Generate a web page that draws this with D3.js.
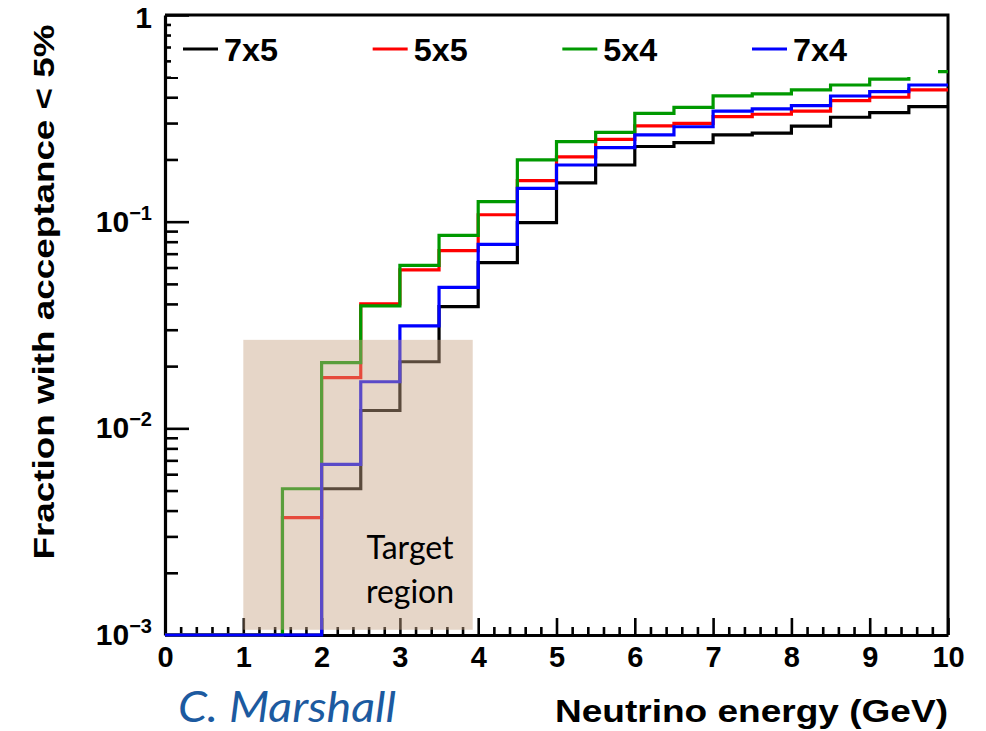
<!DOCTYPE html>
<html>
<head>
<meta charset="utf-8">
<script src="https://cdn.jsdelivr.net/npm/d3@7"></script>
<style>
  body { margin: 0; background: #fff; }
  svg { display: block; }
</style>
</head>
<body>
<svg></svg>
<script>
// bin edges (GeV), 0.5 GeV bins
const binEdges = [0, 0.5, 1, 1.5, 2, 2.5, 3, 3.5, 4, 4.5, 5, 5.5, 6, 6.5, 7, 7.5, 8, 8.5, 9, 9.5, 10];

const seriesNames = ["7x5", "5x5", "5x4", "7x4"];
const seriesColors = ["#000000", "#ff0000", "#009900", "#0000ff"];

// fraction per bin, 0 = empty bin (drawn on the frame bottom)
const frac7x5 = [0, 0, 0, 0, 0.0051, 0.0122, 0.0210, 0.0388, 0.0633, 0.0989, 0.154, 0.188, 0.231, 0.241, 0.263, 0.268, 0.290, 0.320, 0.337, 0.360];
const frac5x5 = [0, 0, 0, 0.0037, 0.0176, 0.040, 0.0584, 0.0724, 0.108, 0.158, 0.206, 0.250, 0.291, 0.299, 0.322, 0.331, 0.343, 0.385, 0.400, 0.434];
const frac5x4 = [0, 0, 0, 0.0051, 0.0208, 0.0391, 0.0615, 0.0859, 0.125, 0.199, 0.244, 0.2705, 0.334, 0.3575, 0.406, 0.415, 0.434, 0.4585, 0.489, 0.532];
const frac7x4 = [0, 0, 0, 0, 0.0067, 0.0168, 0.0313, 0.0481, 0.0777, 0.145, 0.188, 0.228, 0.263, 0.288, 0.343, 0.351, 0.364, 0.4056, 0.4256, 0.4585];

const xTicks = [0, 1, 2, 3, 4, 5, 6, 7, 8, 9, 10];
const xMinorTicks = [0.2, 0.4, 0.6, 0.8, 1.2, 1.4, 1.6, 1.8, 2.2, 2.4, 2.6, 2.8, 3.2, 3.4, 3.6, 3.8, 4.2, 4.4, 4.6, 4.8,
                     5.2, 5.4, 5.6, 5.8, 6.2, 6.4, 6.6, 6.8, 7.2, 7.4, 7.6, 7.8, 8.2, 8.4, 8.6, 8.8, 9.2, 9.4, 9.6, 9.8];
const yTicks = [0.001, 0.01, 0.1, 1];
const yTickExp = ["\u22123", "\u22122", "\u22121", ""];
const yMinorTicks = [0.002, 0.003, 0.004, 0.005, 0.006, 0.007, 0.008, 0.009,
                     0.02, 0.03, 0.04, 0.05, 0.06, 0.07, 0.08, 0.09,
                     0.2, 0.3, 0.4, 0.5, 0.6, 0.7, 0.8, 0.9];

// shaded "target region" in data units
const targetX = [1, 3.93];
const targetY = [0.00106, 0.0268];

const width = 986,
      height = 731,
      margin = { top: 15, right: 38, bottom: 96, left: 165 };

const x = d3.scaleLinear()
      .domain([0, 10])
      .range([margin.left, width - margin.right]);

const y = d3.scaleLog()
      .domain([1e-3, 1])
      .range([height - margin.bottom, margin.top]);

const svg = d3.select("svg")
      .attr("width", width)
      .attr("height", height)
      .attr("viewBox", [0, 0, width, height]);

const boldFont = "'Liberation Sans', Arial, Helvetica, sans-serif";

// frame (top and right)
svg.append("path")
    .attr("fill", "none")
    .attr("stroke", "black")
    .attr("stroke-width", 3)
    .attr("d", `M${x(0)},${y(1)}H${x(10)}V${y(1e-3)}`);

// x axis
const xAx = svg.append("g")
    .attr("transform", `translate(0,${y(1e-3)})`)
    .call(d3.axisBottom(x).tickValues(xTicks).tickSize(-17).tickSizeOuter(0).tickPadding(11).tickFormat(d3.format("d")));
xAx.select(".domain").attr("stroke-width", 3.2);
xAx.selectAll(".tick line").attr("stroke-width", 2.6);
xAx.selectAll(".tick text")
    .attr("font-family", boldFont)
    .attr("font-weight", "bold")
    .attr("font-size", 29)
    .attr("fill", "#000");

svg.append("g")
    .attr("transform", `translate(0,${y(1e-3)})`)
    .call(d3.axisBottom(x).tickValues(xMinorTicks).tickSize(-8).tickFormat(""))
    .call(g => g.select(".domain").remove())
    .selectAll(".tick line").attr("stroke-width", 2.6);

// y axis
const yAx = svg.append("g")
    .attr("transform", `translate(${x(0)},0)`)
    .call(d3.axisLeft(y).tickValues(yTicks).tickSize(-24).tickSizeOuter(0).tickFormat(""));
yAx.select(".domain").attr("stroke-width", 3.2);
yAx.selectAll(".tick line").attr("stroke-width", 2.6);

svg.append("g")
    .attr("transform", `translate(${x(0)},0)`)
    .call(d3.axisLeft(y).tickValues(yMinorTicks).tickSize(-13).tickFormat(""))
    .call(g => g.select(".domain").remove())
    .selectAll(".tick line").attr("stroke-width", 2.6);

// y tick labels: 10^-n
const yLab = svg.append("g")
    .attr("font-family", boldFont)
    .attr("font-weight", "bold")
    .attr("text-anchor", "end");
yTicks.forEach((v, i) => {
  const t = yLab.append("text")
      .attr("x", x(0) - 13)
      .attr("y", y(v) + (yTickExp[i] ? 10 : 13));
  if (yTickExp[i]) {
    t.append("tspan").attr("font-size", 30).text("10");
    t.append("tspan").attr("font-size", 20).attr("dy", -12).text(yTickExp[i]);
  } else {
    t.append("tspan").attr("font-size", 30).text("1");
  }
});

// histograms
const line = d3.line()
      .curve(d3.curveStepAfter)
      .x(d => x(d.e))
      .y(d => y(Math.max(d.v, 1e-3)));

[frac7x5, frac5x5, frac5x4, frac7x4].forEach((vals, k) => {
  const pts = vals.map((v, i) => ({ e: binEdges[i], v: v }));
  pts.push({ e: binEdges[binEdges.length - 1], v: vals[vals.length - 1] });
  svg.append("path")
      .attr("fill", "none")
      .attr("stroke", seriesColors[k])
      .attr("stroke-width", 3.2)
      .attr("d", line(pts));
});

// legend (white box, no border)
const leg = svg.append("g");
leg.append("rect")
    .attr("x", x(0) + 6)
    .attr("y", y(1) + 6)
    .attr("width", 938 - x(0) - 6)
    .attr("height", 56)
    .attr("fill", "#fff");

const legX = d3.scalePoint().domain(seriesNames).range([183, 752]);
seriesNames.forEach((name, k) => {
  const lx = legX(name);
  leg.append("line")
      .attr("x1", lx).attr("x2", lx + 35)
      .attr("y1", 49).attr("y2", 49)
      .attr("stroke", seriesColors[k])
      .attr("stroke-width", 3.2);
  leg.append("text")
      .attr("x", lx + 41)
      .attr("y", 61)
      .attr("font-family", boldFont)
      .attr("font-weight", "bold")
      .attr("font-size", 32)
      .attr("textLength", 54)
      .attr("lengthAdjust", "spacingAndGlyphs")
      .text(name);
});

// target region overlay
svg.append("rect")
    .attr("x", x(targetX[0]))
    .attr("y", y(targetY[1]))
    .attr("width", x(targetX[1]) - x(targetX[0]))
    .attr("height", y(targetY[0]) - y(targetY[1]))
    .attr("fill", "rgb(199,164,133)")
    .attr("fill-opacity", 0.45);

const tgt = svg.append("text")
    .attr("font-family", "Lato, 'Open Sans', sans-serif")
    .attr("font-size", 32)
    .attr("fill", "#000")
    .attr("text-anchor", "middle");
tgt.append("tspan").attr("x", 410).attr("y", 559).text("Target");
tgt.append("tspan").attr("x", 410).attr("y", 603).text("region");

// axis titles
svg.append("text")
    .attr("x", 948)
    .attr("y", 722)
    .attr("text-anchor", "end")
    .attr("font-family", boldFont)
    .attr("font-weight", "bold")
    .attr("font-size", 32)
    .attr("textLength", 393)
    .attr("lengthAdjust", "spacingAndGlyphs")
    .text("Neutrino energy (GeV)");

svg.append("text")
    .attr("transform", "translate(54,292) rotate(-90)")
    .attr("text-anchor", "middle")
    .attr("font-family", boldFont)
    .attr("font-weight", "bold")
    .attr("font-size", 30)
    .attr("textLength", 535)
    .attr("lengthAdjust", "spacingAndGlyphs")
    .text("Fraction with acceptance < 5%");

// author credit
svg.append("text")
    .attr("x", 178)
    .attr("y", 722)
    .attr("font-family", "Lato, 'Open Sans', sans-serif")
    .attr("font-style", "italic")
    .attr("font-size", 42)
    .attr("fill", "#1c5aa0")
    .attr("textLength", 218)
    .attr("lengthAdjust", "spacingAndGlyphs")
    .text("C. Marshall");
</script>
</body>
</html>
